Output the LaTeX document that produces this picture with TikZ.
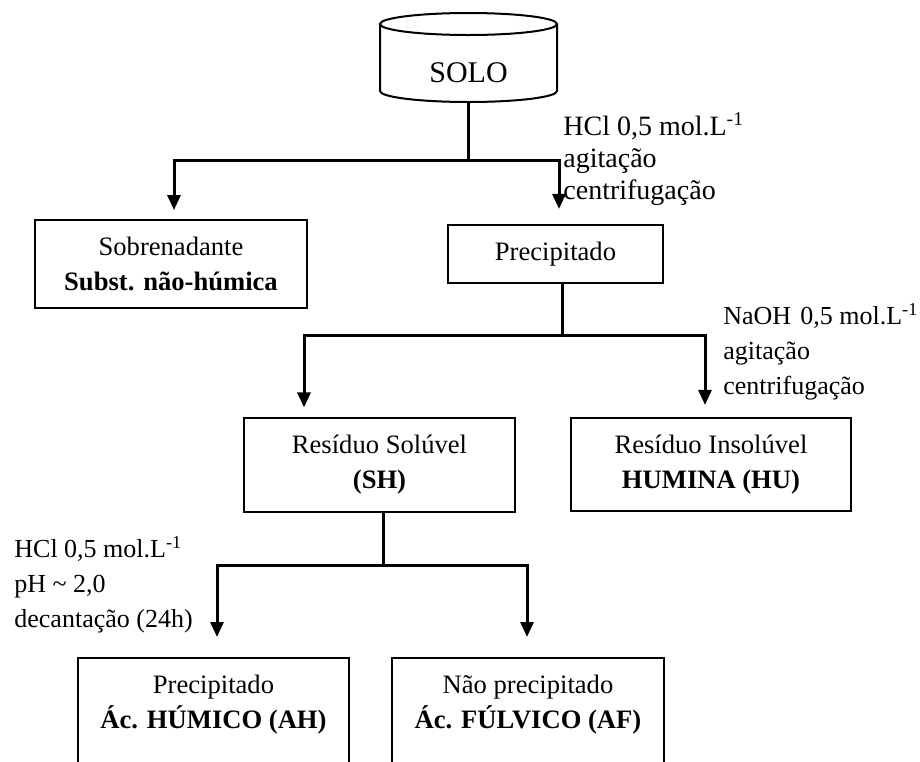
\documentclass[tikz,border=0pt]{standalone}
\usepackage{fontspec}
\setmainfont{Liberation Serif}
\usetikzlibrary{arrows.meta}

\begin{document}
\begin{tikzpicture}[x=0.5pt,y=-0.5pt,
  box/.style={draw,line width=1pt,align=center,inner xsep=4pt,inner ysep=8.5pt,font=\fontsize{13.3}{17.5}\selectfont},
  flow/.style={line width=1.5pt},
  flowarrow/.style={flow,-{Triangle[width=6.5pt,length=7.5pt]}},
  note/.style={anchor=north west,inner sep=0pt,align=left}]
\useasboundingbox (0,0) rectangle (920,761);
% solo
\draw[line width=1pt] (468.5,24) ellipse [x radius=44.25pt,y radius=5.5pt] ;
\draw[line width=1pt] (380,24) -- (380,91) arc [start angle=180,end angle=360,x radius=44.25pt,y radius=5.5pt] -- (557,24) ;
\node[font=\fontsize{15}{18}\selectfont] (solo) at (468.5,73) {SOLO};
\coordinate (soloBase) at (468.5,102);
% boxes
\node[box,minimum width=136pt] (sobre) at (171,264) {Sobrenadante\\\textbf{Subst. não-húmica}};
\node[box,minimum width=107.5pt] (prec) at (555.5,254) {Precipitado};
\node[box,minimum width=135.5pt] (sol) at (379.5,465) {Resíduo Solúvel\\\textbf{(SH)}};
\node[box,minimum width=140pt] (insol) at (711,464.5) {Resíduo Insolúvel\\\textbf{HUMINA (HU)}};
\node[box,minimum width=135.5pt,anchor=north] (ah) at (213.5,657) {Precipitado\\\textbf{Ác. HÚMICO (AH)}\\[30pt]\strut};
\node[box,minimum width=136pt,anchor=north] (af) at (528,657) {Não precipitado\\\textbf{Ác. FÚLVICO (AF)}\\[30pt]\strut};
% connectors
\coordinate (j1) at (468.5,160);
\draw[flow] (soloBase) -- (j1) ;
\draw[flowarrow,shorten >=4.5pt] (j1) -| ([xshift=1.5pt]sobre.north) ;
\draw[flowarrow,shorten >=7.5pt] (j1) -| ([xshift=1.75pt]prec.north) ;
\coordinate (j2) at (562,335);
\draw[flow] ([xshift=3.25pt]prec.south) -- (j2) ;
\draw[flowarrow,shorten >=5pt] (j2) -| ([xshift=-37.75pt]sol.north) ;
\draw[flowarrow,shorten >=6pt] (j2) -| ([xshift=-3pt]insol.north) ;
\coordinate (j3) at (383,565);
\draw[flow] ([xshift=1.75pt]sol.south) -- (j3) ;
\draw[flowarrow,shorten >=10pt] (j3) -| ([xshift=1.75pt]ah.north) ;
\draw[flowarrow,shorten >=10pt] (j3) -| ([xshift=-0.5pt]af.north) ;
% reagents
\node[note,font=\fontsize{14}{16}\selectfont] (hclA) at (563,112) {HCl 0,5 mol.L\textsuperscript{-1}\\agitação\\centrifugação};
\node[note,font=\fontsize{13}{17.5}\selectfont] (naoh) at (723,303) {NaOH\hspace{0.35em}0,5 mol.L\textsuperscript{-1}\\agitação\\centrifugação};
\node[note,font=\fontsize{13}{17.5}\selectfont] (hclB) at (14,536) {HCl 0,5 mol.L\textsuperscript{-1}\\pH \textasciitilde{} 2,0\\decantação (24h)};
\end{tikzpicture}
\end{document}
